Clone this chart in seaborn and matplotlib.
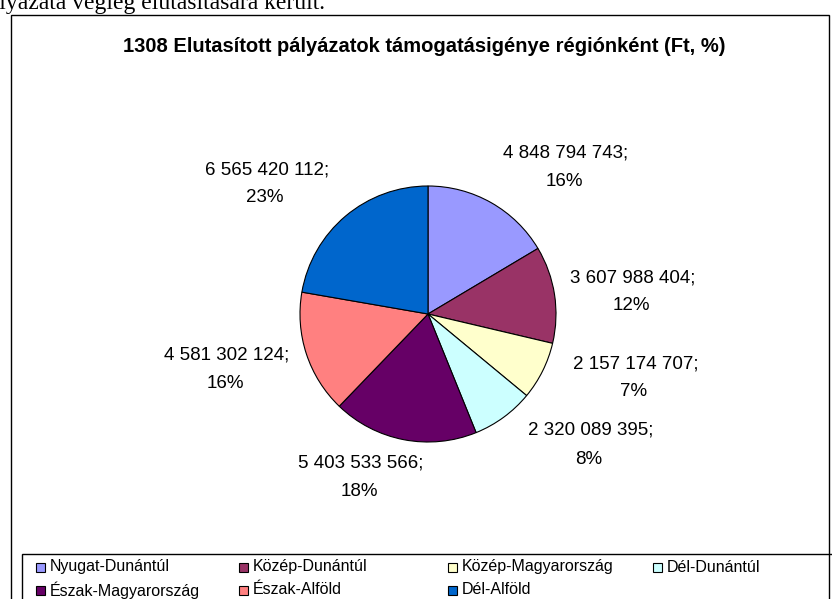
import matplotlib
matplotlib.use("Agg")
import matplotlib.pyplot as plt
from matplotlib.patches import Rectangle
import seaborn as sns

# ---- data ----
regions = ["Nyugat-Dunántúl", "Közép-Dunántúl", "Közép-Magyarország", "Dél-Dunántúl",
           "Észak-Magyarország", "Észak-Alföld", "Dél-Alföld"]
values = [4848794743, 3607988404, 2157174707, 2320089395,
          5403533566, 4581302124, 6565420112]
pct_labels = ["16%", "12%", "7%", "8%", "18%", "16%", "23%"]
title = "1308 Elutasított pályázatok támogatásigénye régiónként (Ft, %)"
top_text = "pályázata végleg elutasítására került."

# ---- style ----
colors = ["#9999FF", "#993366", "#FFFFCC", "#CCFFFF", "#660066", "#FF8080", "#0066CC"]
W, H = 832, 599
center_px = (428, 314)
radius_px = 128
# label layout: (centre x, value-line y, percent-line y), pixels from top-left
label_pos = [(566, 153, 182), (633, 278, 306), (636, 364, 392), (591, 430, 459),
             (361, 463, 492), (227, 355, 383), (267, 170, 198)]
legend_cols_x = [40, 243, 452, 657]
legend_rows_y = [567, 590]

sns.set_theme(style="white")
plt.rcParams["font.family"] = ["Liberation Sans", "DejaVu Sans"]

fig = plt.figure(figsize=(W / 100, H / 100), dpi=100)
fig.patch.set_facecolor("white")
ax = fig.add_axes([0, 0, 1, 1])


def fy(y):
    return H - y


# pie
wedges, _ = ax.pie(values, colors=colors, startangle=90, counterclock=False,
                   radius=radius_px, center=(center_px[0], fy(center_px[1])),
                   wedgeprops=dict(edgecolor="black", linewidth=0.8),
                   frame=True)
ax.set_xlim(0, W)
ax.set_ylim(0, H)
ax.set_aspect("equal")
ax.axis("off")

# chart border
ax.add_patch(Rectangle((11, fy(700)), 829 - 11, 700 - 15, fill=False,
                       edgecolor="black", linewidth=1.0, zorder=1))

# data labels
for v, p, (x, y1, y2) in zip(values, pct_labels, label_pos):
    ax.text(x, fy(y1), f"{v:,}".replace(",", " ") + ";", ha="center", va="center",
            fontsize=13.5, color="black")
    ax.text(x - 2, fy(y2), p, ha="center", va="center", fontsize=13.5, color="black")

# title
ax.text(424, fy(46), title, ha="center", va="center", fontsize=14.5,
        fontweight="bold", color="black")

# top text (cut by page edge, as in the source)
ax.text(-23, fy(9), top_text, ha="left", va="baseline", fontsize=17,
        family=["Liberation Serif", "DejaVu Serif"], color="black")

# legend box
ax.add_patch(Rectangle((22, fy(700)), 900, 700 - 554, fill=False,
                       edgecolor="black", linewidth=1.0, zorder=3))
for i, name in enumerate(regions):
    row, col = divmod(i, 4)
    x = legend_cols_x[col]
    y = legend_rows_y[row]
    ax.add_patch(Rectangle((x - 4.5, fy(y) - 4.5), 9, 9, facecolor=colors[i],
                           edgecolor="black", linewidth=0.8, zorder=4))
    ax.text(x + 10, fy(y), name, ha="left", va="center", fontsize=11.5,
            color="black")

fig.savefig("out.png", dpi=100)
